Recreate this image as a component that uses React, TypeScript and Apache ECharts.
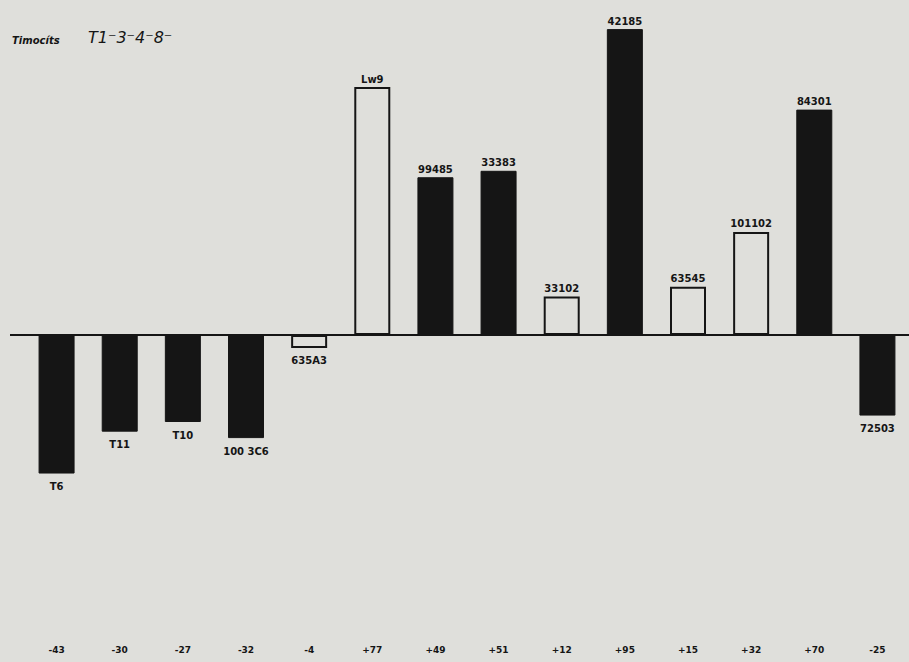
import React, { useEffect, useRef } from "react";
import * as echarts from "echarts";

const categories = ["T6", "T11", "T10", "100 3C6", "635A3", "Lw9", "99485", "33383", "33102", "42185", "63545", "101102", "84301", "72503"];
const values = [-43, -30, -27, -32, -4, 77, 49, 51, 12, 95, 15, 32, 70, -25];
const filled = [true, true, true, true, false, false, true, true, false, true, false, false, true, true];
const valueLabels = values.map((v) => (v > 0 ? "+" + v : String(v)));

const BG = "#dfdfdb";
const INK = "#151515";

export default function App() {
  const ref = useRef<HTMLDivElement>(null);
  useEffect(() => {
    if (!ref.current) return;
    const chart = echarts.init(ref.current, undefined, { renderer: "svg" });
    chart.setOption({
      animation: false,
      backgroundColor: BG,
      grid: { left: 25, right: -7, top: 13, bottom: 21, containLabel: false },
      xAxis: [
        {
          type: "category",
          data: categories,
          position: "bottom",
          axisLine: { show: true, onZero: true, lineStyle: { color: INK, width: 2 } },
          axisTick: { show: false },
          axisLabel: { show: false },
          splitLine: { show: false },
        },
        {
          type: "category",
          data: valueLabels,
          position: "bottom",
          axisLine: { show: false, onZero: false },
          axisTick: { show: false },
          axisLabel: {
            show: true,
            margin: 4,
            color: INK,
            fontFamily: "DejaVu Sans",
            fontWeight: "bold",
            fontSize: 9,
          },
          splitLine: { show: false },
        },
      ],
      yAxis: {
        type: "value",
        min: -95,
        max: 100,
        show: false,
        splitLine: { show: false },
      },
      series: [
        {
          type: "bar",
          xAxisIndex: 0,
          barWidth: 36,
          data: values.map((v, i) => ({
            value: v,
            itemStyle: filled[i]
              ? { color: INK, borderColor: INK, borderWidth: 1 }
              : { color: BG, borderColor: INK, borderWidth: 2 },
            label: { position: v < 0 ? "bottom" : "top", distance: v < 0 ? 8 : 3 },
          })),
          label: {
            show: true,
            formatter: (p: any) => categories[p.dataIndex],
            color: INK,
            fontFamily: "DejaVu Sans",
            fontWeight: "bold",
            fontSize: 10,
          },
        },
      ],
      graphic: [
        {
          type: "line",
          shape: { x1: 10, y1: 335, x2: 26, y2: 335 },
          style: { stroke: INK, lineWidth: 2 },
        },
        {
          type: "text",
          left: 12,
          top: 35,
          style: { text: "Timocíts", fill: INK, font: "italic bold 10px 'DejaVu Sans'" },
        },
        {
          type: "text",
          left: 88,
          top: 29,
          style: { text: "T1⁻3⁻4⁻8⁻", fill: INK, font: "italic 16px 'DejaVu Sans'" },
        },
      ],
    });
    return () => chart.dispose();
  }, []);
  return (
    <div
      ref={ref}
      style={{ position: "fixed", left: 0, top: 0, width: 909, height: 662 }}
    />
  );
}
